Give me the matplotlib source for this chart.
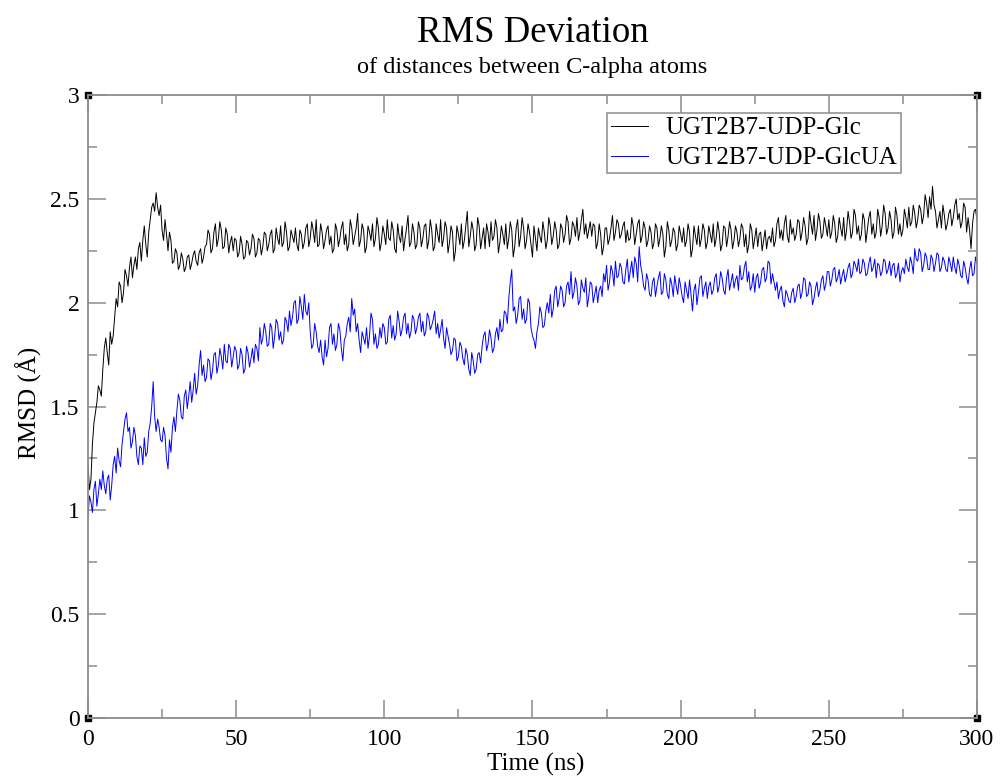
import numpy as np
import matplotlib
matplotlib.use('Agg')
import matplotlib.pyplot as plt
from matplotlib.ticker import MultipleLocator

# samples on whole ns (0..300) and on half ns (0.5..299.5)
t_whole = list(range(0, 301))
t_half = [t + 0.5 for t in range(0, 300)]

glc_whole = [
    1.22, 1.15, 1.42, 1.52, 1.58, 1.68, 1.83, 1.70, 1.80, 1.93,
    1.98, 2.08, 2.05, 2.13, 2.17, 2.12, 2.22, 2.26, 2.20, 2.37,
    2.22, 2.40, 2.48, 2.53, 2.42, 2.35, 2.40, 2.25, 2.30, 2.20,
    2.24, 2.18, 2.21, 2.17, 2.23, 2.19, 2.25, 2.18, 2.26, 2.22,
    2.28, 2.33, 2.26, 2.38, 2.31, 2.35, 2.27, 2.33, 2.29, 2.25,
    2.30, 2.24, 2.28, 2.22, 2.29, 2.26, 2.31, 2.24, 2.30, 2.27,
    2.33, 2.28, 2.35, 2.26, 2.31, 2.37, 2.29, 2.34, 2.27, 2.32,
    2.36, 2.25, 2.33, 2.29, 2.38, 2.31, 2.35, 2.40, 2.28, 2.34,
    2.30, 2.37, 2.32, 2.26, 2.35, 2.31, 2.39, 2.33, 2.28, 2.36,
    2.32, 2.43, 2.30, 2.35, 2.27, 2.34, 2.38, 2.31, 2.36, 2.29,
    2.33, 2.40, 2.30, 2.35, 2.24, 2.32, 2.37, 2.31, 2.42, 2.29,
    2.34, 2.28, 2.36, 2.31, 2.38, 2.30, 2.35, 2.27, 2.33, 2.40,
    2.31, 2.36, 2.29, 2.34, 2.25, 2.33, 2.38, 2.30, 2.44, 2.32,
    2.35, 2.28, 2.37, 2.31, 2.26, 2.34, 2.39, 2.32, 2.36, 2.29,
    2.33, 2.38, 2.31, 2.35, 2.27, 2.40, 2.32, 2.36, 2.30, 2.34,
    2.22, 2.31, 2.36, 2.29, 2.34, 2.30, 2.37, 2.32, 2.35, 2.28,
    2.36, 2.33, 2.39, 2.31, 2.37, 2.41, 2.34, 2.45, 2.38, 2.35,
    2.32, 2.37, 2.29, 2.33, 2.27, 2.36, 2.31, 2.42, 2.34, 2.38,
    2.33, 2.39, 2.35, 2.31, 2.37, 2.33, 2.40, 2.32, 2.36, 2.30,
    2.34, 2.29, 2.36, 2.31, 2.33, 2.27, 2.35, 2.30, 2.34, 2.28,
    2.33, 2.36, 2.30, 2.34, 2.26, 2.32, 2.37, 2.31, 2.35, 2.29,
    2.33, 2.38, 2.31, 2.34, 2.28, 2.36, 2.32, 2.35, 2.30, 2.34,
    2.31, 2.36, 2.33, 2.28, 2.35, 2.31, 2.27, 2.34, 2.30, 2.26,
    2.32, 2.36, 2.30, 2.41, 2.35, 2.38, 2.32, 2.40, 2.36, 2.33,
    2.39, 2.34, 2.37, 2.31, 2.38, 2.42, 2.35, 2.39, 2.33, 2.37,
    2.40, 2.34, 2.38, 2.32, 2.36, 2.41, 2.35, 2.39, 2.34, 2.42,
    2.37, 2.33, 2.40, 2.35, 2.44, 2.38, 2.34, 2.41, 2.37, 2.43,
    2.36, 2.40, 2.34, 2.42, 2.38, 2.35, 2.41, 2.46, 2.39, 2.43,
    2.40, 2.45, 2.42, 2.48, 2.51, 2.56, 2.44, 2.40, 2.36, 2.42,
    2.38, 2.45, 2.41, 2.50, 2.43, 2.39, 2.46, 2.41, 2.26, 2.44,
    2.40,
]

glc_half = [
    1.10, 1.32, 1.47, 1.60, 1.55, 1.78, 1.76, 1.86, 1.84, 2.02,
    2.10, 2.00, 2.16, 2.08, 2.22, 2.18, 2.16, 2.29, 2.30, 2.28,
    2.34, 2.46, 2.44, 2.46, 2.47, 2.30, 2.33, 2.34, 2.19, 2.26,
    2.16, 2.24, 2.15, 2.22, 2.16, 2.23, 2.20, 2.24, 2.19, 2.27,
    2.35, 2.24, 2.34, 2.27, 2.39, 2.26, 2.36, 2.24, 2.32, 2.31,
    2.22, 2.32, 2.21, 2.30, 2.23, 2.33, 2.22, 2.31, 2.23, 2.34,
    2.25, 2.33, 2.24, 2.36, 2.28, 2.27, 2.39, 2.25, 2.35, 2.29,
    2.28, 2.35, 2.26, 2.36, 2.27, 2.39, 2.29, 2.27, 2.38, 2.26,
    2.35, 2.28, 2.24, 2.38, 2.27, 2.36, 2.28, 2.25, 2.40, 2.28,
    2.36, 2.27, 2.38, 2.24, 2.37, 2.30, 2.27, 2.41, 2.25, 2.37,
    2.28, 2.31, 2.39, 2.26, 2.38, 2.29, 2.25, 2.36, 2.27, 2.38,
    2.26, 2.39, 2.27, 2.37, 2.26, 2.40, 2.25, 2.38, 2.29, 2.27,
    2.39, 2.24, 2.37, 2.20, 2.37, 2.28, 2.26, 2.37, 2.27, 2.39,
    2.25, 2.41, 2.26, 2.36, 2.38, 2.27, 2.30, 2.40, 2.24, 2.37,
    2.28, 2.26, 2.39, 2.22, 2.36, 2.27, 2.41, 2.26, 2.38, 2.28,
    2.37, 2.25, 2.32, 2.39, 2.26, 2.41, 2.28, 2.39, 2.26, 2.38,
    2.29, 2.42, 2.28, 2.39, 2.32, 2.30, 2.40, 2.33, 2.31, 2.39,
    2.38, 2.26, 2.38, 2.23, 2.36, 2.28, 2.36, 2.30, 2.40, 2.31,
    2.37, 2.29, 2.30, 2.41, 2.28, 2.38, 2.29, 2.39, 2.27, 2.37,
    2.26, 2.38, 2.27, 2.37, 2.22, 2.39, 2.27, 2.36, 2.25, 2.37,
    2.29, 2.27, 2.38, 2.22, 2.37, 2.28, 2.27, 2.38, 2.26, 2.37,
    2.29, 2.27, 2.39, 2.25, 2.37, 2.27, 2.39, 2.26, 2.37, 2.27,
    2.38, 2.27, 2.24, 2.38, 2.26, 2.36, 2.33, 2.25, 2.35, 2.31,
    2.29, 2.27, 2.38, 2.31, 2.30, 2.42, 2.29, 2.33, 2.30, 2.40,
    2.30, 2.41, 2.28, 2.44, 2.33, 2.30, 2.43, 2.31, 2.41, 2.32,
    2.31, 2.42, 2.29, 2.41, 2.32, 2.30, 2.44, 2.31, 2.45, 2.33,
    2.30, 2.43, 2.29, 2.41, 2.33, 2.31, 2.45, 2.32, 2.47, 2.33,
    2.44, 2.31, 2.46, 2.33, 2.32, 2.45, 2.36, 2.37, 2.47, 2.36,
    2.47, 2.38, 2.52, 2.41, 2.45, 2.47, 2.36, 2.44, 2.47, 2.35,
    2.43, 2.37, 2.47, 2.40, 2.36, 2.48, 2.34, 2.35, 2.38, 2.45,
]

glcua_whole = [
    0.97, 1.04, 1.10, 1.02, 1.15, 1.19, 1.08, 1.17, 1.12, 1.26,
    1.30, 1.21, 1.38, 1.47, 1.40, 1.33, 1.36, 1.22, 1.30, 1.35,
    1.28, 1.42, 1.62, 1.38, 1.40, 1.33, 1.36, 1.20, 1.28, 1.45,
    1.48, 1.53, 1.44, 1.58, 1.55, 1.52, 1.66, 1.60, 1.77, 1.70,
    1.64, 1.72, 1.67, 1.76, 1.70, 1.74, 1.80, 1.71, 1.78, 1.74,
    1.77, 1.70, 1.75, 1.68, 1.76, 1.73, 1.71, 1.78, 1.88, 1.83,
    1.86, 1.80, 1.88, 1.84, 1.90, 1.86, 1.82, 1.91, 1.96, 1.93,
    2.01, 1.92, 1.98, 2.04, 1.94, 1.86, 1.80, 1.86, 1.76, 1.74,
    1.82, 1.78, 1.90, 1.85, 1.80, 1.87, 1.72, 1.84, 1.93, 2.02,
    1.97, 1.90, 1.76, 1.83, 1.88, 1.84, 1.92, 1.85, 1.80, 1.83,
    1.88, 1.81, 1.94, 1.89, 1.85, 1.91, 1.87, 1.95, 1.90, 1.86,
    1.92, 1.88, 1.95, 1.91, 1.86, 1.93, 1.89, 1.96, 1.90, 1.87,
    1.83, 1.88, 1.80, 1.77, 1.82, 1.74, 1.79, 1.70, 1.75, 1.65,
    1.72, 1.68, 1.76, 1.79, 1.86, 1.80, 1.83, 1.78, 1.88, 1.92,
    1.87, 1.95, 2.02, 2.16, 1.98, 1.94, 2.03, 1.97, 1.92, 2.00,
    1.84, 1.78, 1.90, 1.95, 1.89, 2.00, 2.04, 1.97, 2.08, 2.02,
    2.06, 2.00, 2.10, 2.15, 2.05, 2.08, 2.01, 2.07, 2.12, 2.03,
    2.09, 2.04, 2.00, 2.08, 2.14, 2.18, 2.10, 2.15, 2.20, 2.13,
    2.17, 2.09, 2.21, 2.15, 2.12, 2.19, 2.27, 2.14, 2.06, 2.11,
    2.03, 2.12, 2.08, 2.15, 2.05, 2.11, 2.02, 2.09, 2.13, 2.04,
    2.08, 2.00, 2.06, 2.11, 1.96, 2.09, 2.05, 2.13, 2.07, 2.02,
    2.10, 2.06, 2.14, 2.08, 2.12, 2.04, 2.16, 2.10, 2.07, 2.13,
    2.18, 2.12, 2.20, 2.15, 2.08, 2.05, 2.14, 2.10, 2.17, 2.12,
    2.19, 2.14, 2.06, 2.02, 2.08, 1.98, 2.04, 2.00, 2.07, 2.03,
    2.09, 2.05, 2.11, 2.04, 2.08, 2.02, 2.10, 2.06, 2.13, 2.09,
    2.15, 2.11, 2.17, 2.12, 2.09, 2.16, 2.13, 2.19, 2.14, 2.18,
    2.21, 2.15, 2.19, 2.14, 2.22, 2.17, 2.12, 2.18, 2.15, 2.20,
    2.16, 2.13, 2.19, 2.14, 2.10, 2.17, 2.21, 2.15, 2.19, 2.26,
    2.20, 2.24, 2.18, 2.22, 2.16, 2.21, 2.19, 2.23, 2.17, 2.20,
    2.15, 2.19, 2.22, 2.14, 2.18, 2.12, 2.17, 2.09, 2.20, 2.14,
    2.19,
]

glcua_half = [
    1.07, 0.99, 1.14, 1.08, 1.10, 1.12, 1.15, 1.05, 1.22, 1.18,
    1.24, 1.32, 1.44, 1.38, 1.30, 1.40, 1.26, 1.31, 1.22, 1.26,
    1.38, 1.50, 1.45, 1.44, 1.34, 1.40, 1.25, 1.34, 1.40, 1.38,
    1.56, 1.45, 1.55, 1.49, 1.62, 1.58, 1.56, 1.70, 1.65, 1.62,
    1.73, 1.63, 1.75, 1.66, 1.78, 1.68, 1.72, 1.80, 1.69, 1.79,
    1.68, 1.78, 1.66, 1.79, 1.69, 1.78, 1.80, 1.72, 1.80, 1.90,
    1.79, 1.90, 1.78, 1.92, 1.82, 1.80, 1.93, 1.86, 1.89, 2.00,
    1.90, 2.03, 1.92, 1.96, 2.00, 1.78, 1.90, 1.79, 1.82, 1.70,
    1.74, 1.88, 1.80, 1.77, 1.90, 1.78, 1.82, 1.90, 1.86, 1.94,
    1.86, 1.82, 1.86, 1.80, 1.78, 1.95, 1.80, 1.78, 1.88, 1.90,
    1.80, 1.92, 1.83, 1.82, 1.96, 1.84, 1.93, 1.85, 1.83, 1.94,
    1.85, 1.93, 1.86, 1.84, 1.95, 1.87, 1.92, 1.85, 1.83, 1.92,
    1.78, 1.84, 1.75, 1.83, 1.72, 1.81, 1.73, 1.78, 1.68, 1.76,
    1.66, 1.75, 1.71, 1.84, 1.77, 1.87, 1.76, 1.85, 1.82, 1.86,
    1.96, 1.90, 2.10, 1.96, 1.90, 2.02, 1.92, 1.90, 2.02, 1.88,
    1.82, 1.86, 1.98, 1.88, 1.96, 1.95, 1.93, 2.06, 1.98, 2.08,
    1.98, 2.08, 2.04, 2.02, 2.12, 1.99, 2.11, 2.05, 1.98, 2.10,
    2.00, 2.08, 2.06, 2.03, 2.10, 2.06, 2.18, 2.08, 2.12, 2.19,
    2.10, 2.16, 2.10, 2.20, 2.22, 2.10, 2.18, 2.08, 2.14, 2.04,
    2.10, 2.03, 2.12, 2.04, 2.14, 2.04, 2.12, 2.03, 2.08, 2.12,
    2.03, 2.10, 2.02, 2.04, 2.06, 1.99, 2.12, 2.03, 2.10, 2.08,
    2.04, 2.12, 2.05, 2.15, 2.06, 2.12, 2.06, 2.14, 2.11, 2.06,
    2.11, 2.17, 2.10, 2.06, 2.14, 2.12, 2.07, 2.16, 2.10, 2.20,
    2.09, 2.10, 2.10, 2.06, 2.01, 2.06, 2.01, 2.05, 2.00, 2.08,
    2.02, 2.12, 2.03, 2.10, 1.99, 2.07, 2.03, 2.11, 2.06, 2.15,
    2.08, 2.16, 2.10, 2.16, 2.13, 2.10, 2.17, 2.12, 2.20, 2.15,
    2.14, 2.21, 2.13, 2.19, 2.15, 2.21, 2.19, 2.13, 2.21, 2.14,
    2.20, 2.18, 2.12, 2.19, 2.15, 2.14, 2.17, 2.22, 2.14, 2.21,
    2.26, 2.15, 2.24, 2.16, 2.23, 2.15, 2.24, 2.15, 2.22, 2.16,
    2.22, 2.15, 2.17, 2.21, 2.13, 2.20, 2.12, 2.16, 2.13, 2.22,
]

labels = ['UGT2B7-UDP-Glc', 'UGT2B7-UDP-GlcUA']


def merge(whole, half):
    # put whole-ns and half-ns samples back in time order
    out = []
    for a, b in zip(whole[:-1], half):
        out += [a, b]
    out.append(whole[-1])
    return out


time_ns = merge(t_whole, t_half)
rmsd_glc = merge(glc_whole, glc_half)
rmsd_glcua = merge(glcua_whole, glcua_half)

plt.rcParams['font.family'] = ['Liberation Serif', 'DejaVu Serif']

fig = plt.figure(figsize=(10.01, 7.78), dpi=100)
ax = fig.add_axes([0.0879, 0.0771, 0.8881, 0.8007])

l1, = ax.plot(time_ns, rmsd_glc, color='black', lw=0.7)
l2, = ax.plot(time_ns, rmsd_glcua, color='blue', lw=0.7)

ax.set_xlim(0, 300)
ax.set_ylim(0, 3)
ax.xaxis.set_major_locator(MultipleLocator(50))
ax.xaxis.set_minor_locator(MultipleLocator(25))
ax.yaxis.set_minor_locator(MultipleLocator(0.25))
ax.set_yticks([0, 0.5, 1, 1.5, 2, 2.5, 3])
ax.set_yticklabels(['0', '0.5', '1', '1.5', '2', '2.5', '3'])

gray = '#8c8c8c'
for s in ax.spines.values():
    s.set_color(gray)
    s.set_linewidth(1.3)
ax.tick_params(which='both', direction='in', top=True, right=True,
               color=gray, labelsize=17, width=1.1)
ax.tick_params(axis='x', pad=8)
ax.tick_params(axis='y', pad=6)
ax.tick_params(which='major', length=13)
ax.tick_params(which='minor', length=6.5)

fig.text(0.535, 0.010, 'Time (ns)', ha='center', va='baseline', fontsize=18)
fig.text(0.029, 0.482, 'RMSD (Å)', ha='center', va='center', rotation=90,
         fontsize=18)

fig.text(0.532, 0.946, 'RMS Deviation', ha='center', va='baseline', fontsize=26.5)
fig.text(0.532, 0.906, 'of distances between C-alpha atoms', ha='center',
         va='baseline', fontsize=17.5)

# small black squares at the frame corners
for cx, cy in [(0, 0), (0, 1), (1, 0), (1, 1)]:
    ax.plot(cx, cy, marker='s', ms=4, color='black', transform=ax.transAxes,
            clip_on=False)

leg = ax.legend([l1, l2], labels, loc='upper left',
                bbox_to_anchor=(0.5836, 0.971), fontsize=18,
                handlelength=1.5, handletextpad=0.7, borderpad=0.15,
                borderaxespad=0, labelspacing=0.3, fancybox=False,
                framealpha=1)
leg.get_frame().set_edgecolor(gray)
leg.get_frame().set_linewidth(1.1)

plt.savefig('out.png', dpi=100)
